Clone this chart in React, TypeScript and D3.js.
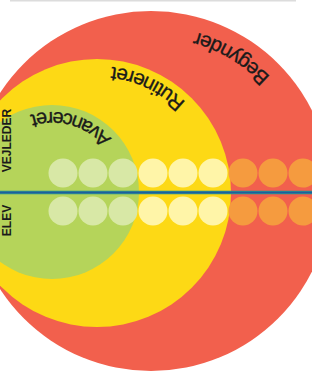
import * as d3 from 'd3'

// levels, from the inner circle outwards
const levels = ['Avanceret', 'Rutineret', 'Begynder']
const dotsPerLevel = [3, 3, 3]
const rows = ['VEJLEDER', 'ELEV']

const levelColors = ['#b5d45a', '#fdd915', '#f2604d']
const dotColors = ['#d8e8a6', '#fff5a8', '#f59b3f']

const W = 312
const H = 371

// circle geometry per level (center x, center y, radius) and label placement
const rings = [
  { cx: 52, cy: 192, r: 87, textR: 80, textAt: 16, size: 20 },
  { cx: 97, cy: 193, r: 134, textR: 127, textAt: 25.5, size: 20.5 },
  { cx: 151, cy: 191, r: 180, textR: 165, textAt: 31, size: 20.5 },
]

// counter-clockwise half circle centred on a clock angle, so text sits upside down
function labelArc(cx: number, cy: number, r: number, at: number) {
  const rad = (deg: number) => ((deg - 90) * Math.PI) / 180
  const p = d3.path()
  const a0 = rad(at + 89)
  const a1 = rad(at - 89)
  p.moveTo(cx + r * Math.cos(a0), cy + r * Math.sin(a0))
  p.arc(cx, cy, r, a0, a1, true)
  return p.toString()
}

export default function App() {
  const dots = levels.flatMap((lv, li) =>
    d3.range(dotsPerLevel[li]).map(() => ({ level: li })),
  ).map((d, i) => ({ ...d, i }))

  const x = d3
    .scaleBand<number>()
    .domain(d3.range(dots.length))
    .range([48, 318])
  const y = d3.scalePoint<string>().domain(rows).range([173, 211])
  const lineY = 192.5

  const order = d3.range(levels.length).reverse()

  return (
    <svg
      width={W}
      height={H}
      style={{ position: 'absolute', left: 0, top: 0 }}
      fontFamily="'Liberation Sans', Arial, sans-serif"
    >
      <rect x={10} y={0} width={286} height={1.5} fill="#dcdcdc" />
      <defs>
        {rings.map((g, i) => (
          <path key={i} id={`arc${i}`} d={labelArc(g.cx, g.cy, g.textR, g.textAt)} />
        ))}
      </defs>
      {order.map((i) => (
        <circle key={i} cx={rings[i].cx} cy={rings[i].cy} r={rings[i].r} fill={levelColors[i]} />
      ))}
      {order.map((i) => (
        <text
          key={i}
          fontSize={rings[i].size}
          fill="#1a1a1a"
          stroke="#1a1a1a"
          strokeWidth={0.35}
        >
          <textPath href={`#arc${i}`} startOffset="50%" textAnchor="middle">
            {levels[i]}
          </textPath>
        </text>
      ))}
      {rows.map((row) =>
        dots.map((d) => (
          <circle
            key={row + d.i}
            cx={(x(d.i) ?? 0) + x.bandwidth() / 2}
            cy={y(row)}
            r={14.5}
            fill={dotColors[d.level]}
          />
        )),
      )}
      <line x1={0} x2={W} y1={lineY} y2={lineY} stroke="#2b8c92" strokeWidth={3.5} />
      <line x1={0} x2={W} y1={lineY} y2={lineY} stroke="#1f5c9c" strokeWidth={1.5} />
      <text
        transform={`translate(11, 140.5) rotate(-90)`}
        textAnchor="middle"
        fontSize={12}
        fontWeight="bold"
        fill="#1a1a1a"
      >
        {rows[0]}
      </text>
      <text
        transform={`translate(11, 220.5) rotate(-90)`}
        textAnchor="middle"
        fontSize={12}
        fontWeight="bold"
        fill="#1a1a1a"
      >
        {rows[1]}
      </text>
    </svg>
  )
}
